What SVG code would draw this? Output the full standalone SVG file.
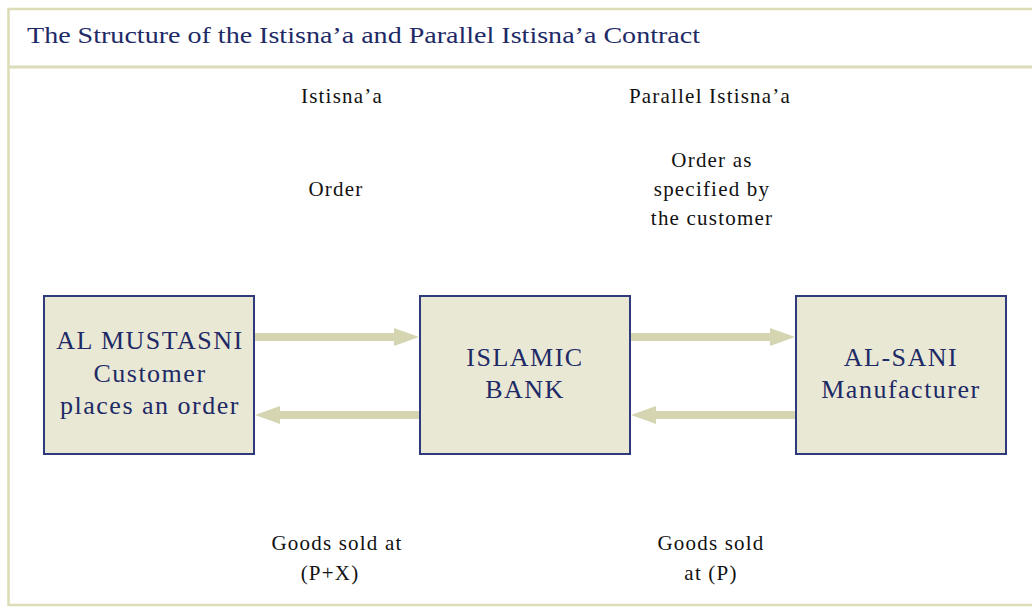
<svg xmlns="http://www.w3.org/2000/svg" width="1032" height="607" viewBox="0 0 1032 607">
<style>
.frame{fill:none;stroke:#dcdcb8;stroke-width:2.5}
.box{fill:#e9e8d5;stroke:#2e3a7c;stroke-width:2}
.bt{font-family:"Liberation Serif",serif;font-size:26px;letter-spacing:1.5px;fill:#1e2a66;text-anchor:middle}
.lbl{font-family:"Liberation Serif",serif;font-size:21px;letter-spacing:1.2px;fill:#111;text-anchor:middle}
.title{font-family:"Liberation Serif",serif;font-size:24px;fill:#1e2a66}
.arr{fill:#d6d5b2}
</style>
<rect width="1032" height="607" fill="#fff"/>
<path class="frame" d="M1034 9 H8.5 V605 H1034"/>
<line x1="8" y1="67" x2="1032" y2="67" stroke="#dcdcb8" stroke-width="3"/>
<text class="title" x="27" y="43" textLength="673" lengthAdjust="spacingAndGlyphs">The Structure of the Istisna’a and Parallel Istisna’a Contract</text>
<g id="labels">
<text class="lbl" x="342" y="103">Istisna’a</text>
<text class="lbl" x="710" y="103">Parallel Istisna’a</text>
<text class="lbl" x="336" y="196">Order</text>
<text class="lbl" x="712" y="167">Order as</text>
<text class="lbl" x="712" y="196">specified by</text>
<text class="lbl" x="712" y="225">the customer</text>
<text class="lbl" x="337" y="550">Goods sold at</text>
<text class="lbl" x="330" y="580">(P+X)</text>
<text class="lbl" x="711" y="550">Goods sold</text>
<text class="lbl" x="711" y="580">at (P)</text>
</g>
<g id="connectors">
<polygon class="arr" points="255,333 394,333 394,328 419,337 394,346 394,341 255,341"/>
<polygon class="arr" points="419,411 280,411 280,406 255,415 280,424 280,419 419,419"/>
<polygon class="arr" points="631,333 770,333 770,328 795,337 770,346 770,341 631,341"/>
<polygon class="arr" points="795,411 656,411 656,406 631,415 656,424 656,419 795,419"/>
</g>
<g id="customer">
<rect class="box" x="44" y="296" width="210" height="158"/>
<text class="bt" x="150" y="349">AL MUSTASNI</text>
<text class="bt" x="150" y="382">Customer</text>
<text class="bt" x="150" y="414">places an order</text>
</g>
<g id="bank">
<rect class="box" x="420" y="296" width="210" height="158"/>
<text class="bt" x="525" y="366">ISLAMIC</text>
<text class="bt" x="525" y="398">BANK</text>
</g>
<g id="manufacturer">
<rect class="box" x="796" y="296" width="210" height="158"/>
<text class="bt" x="901" y="366">AL-SANI</text>
<text class="bt" x="901" y="398">Manufacturer</text>
</g>
</svg>
